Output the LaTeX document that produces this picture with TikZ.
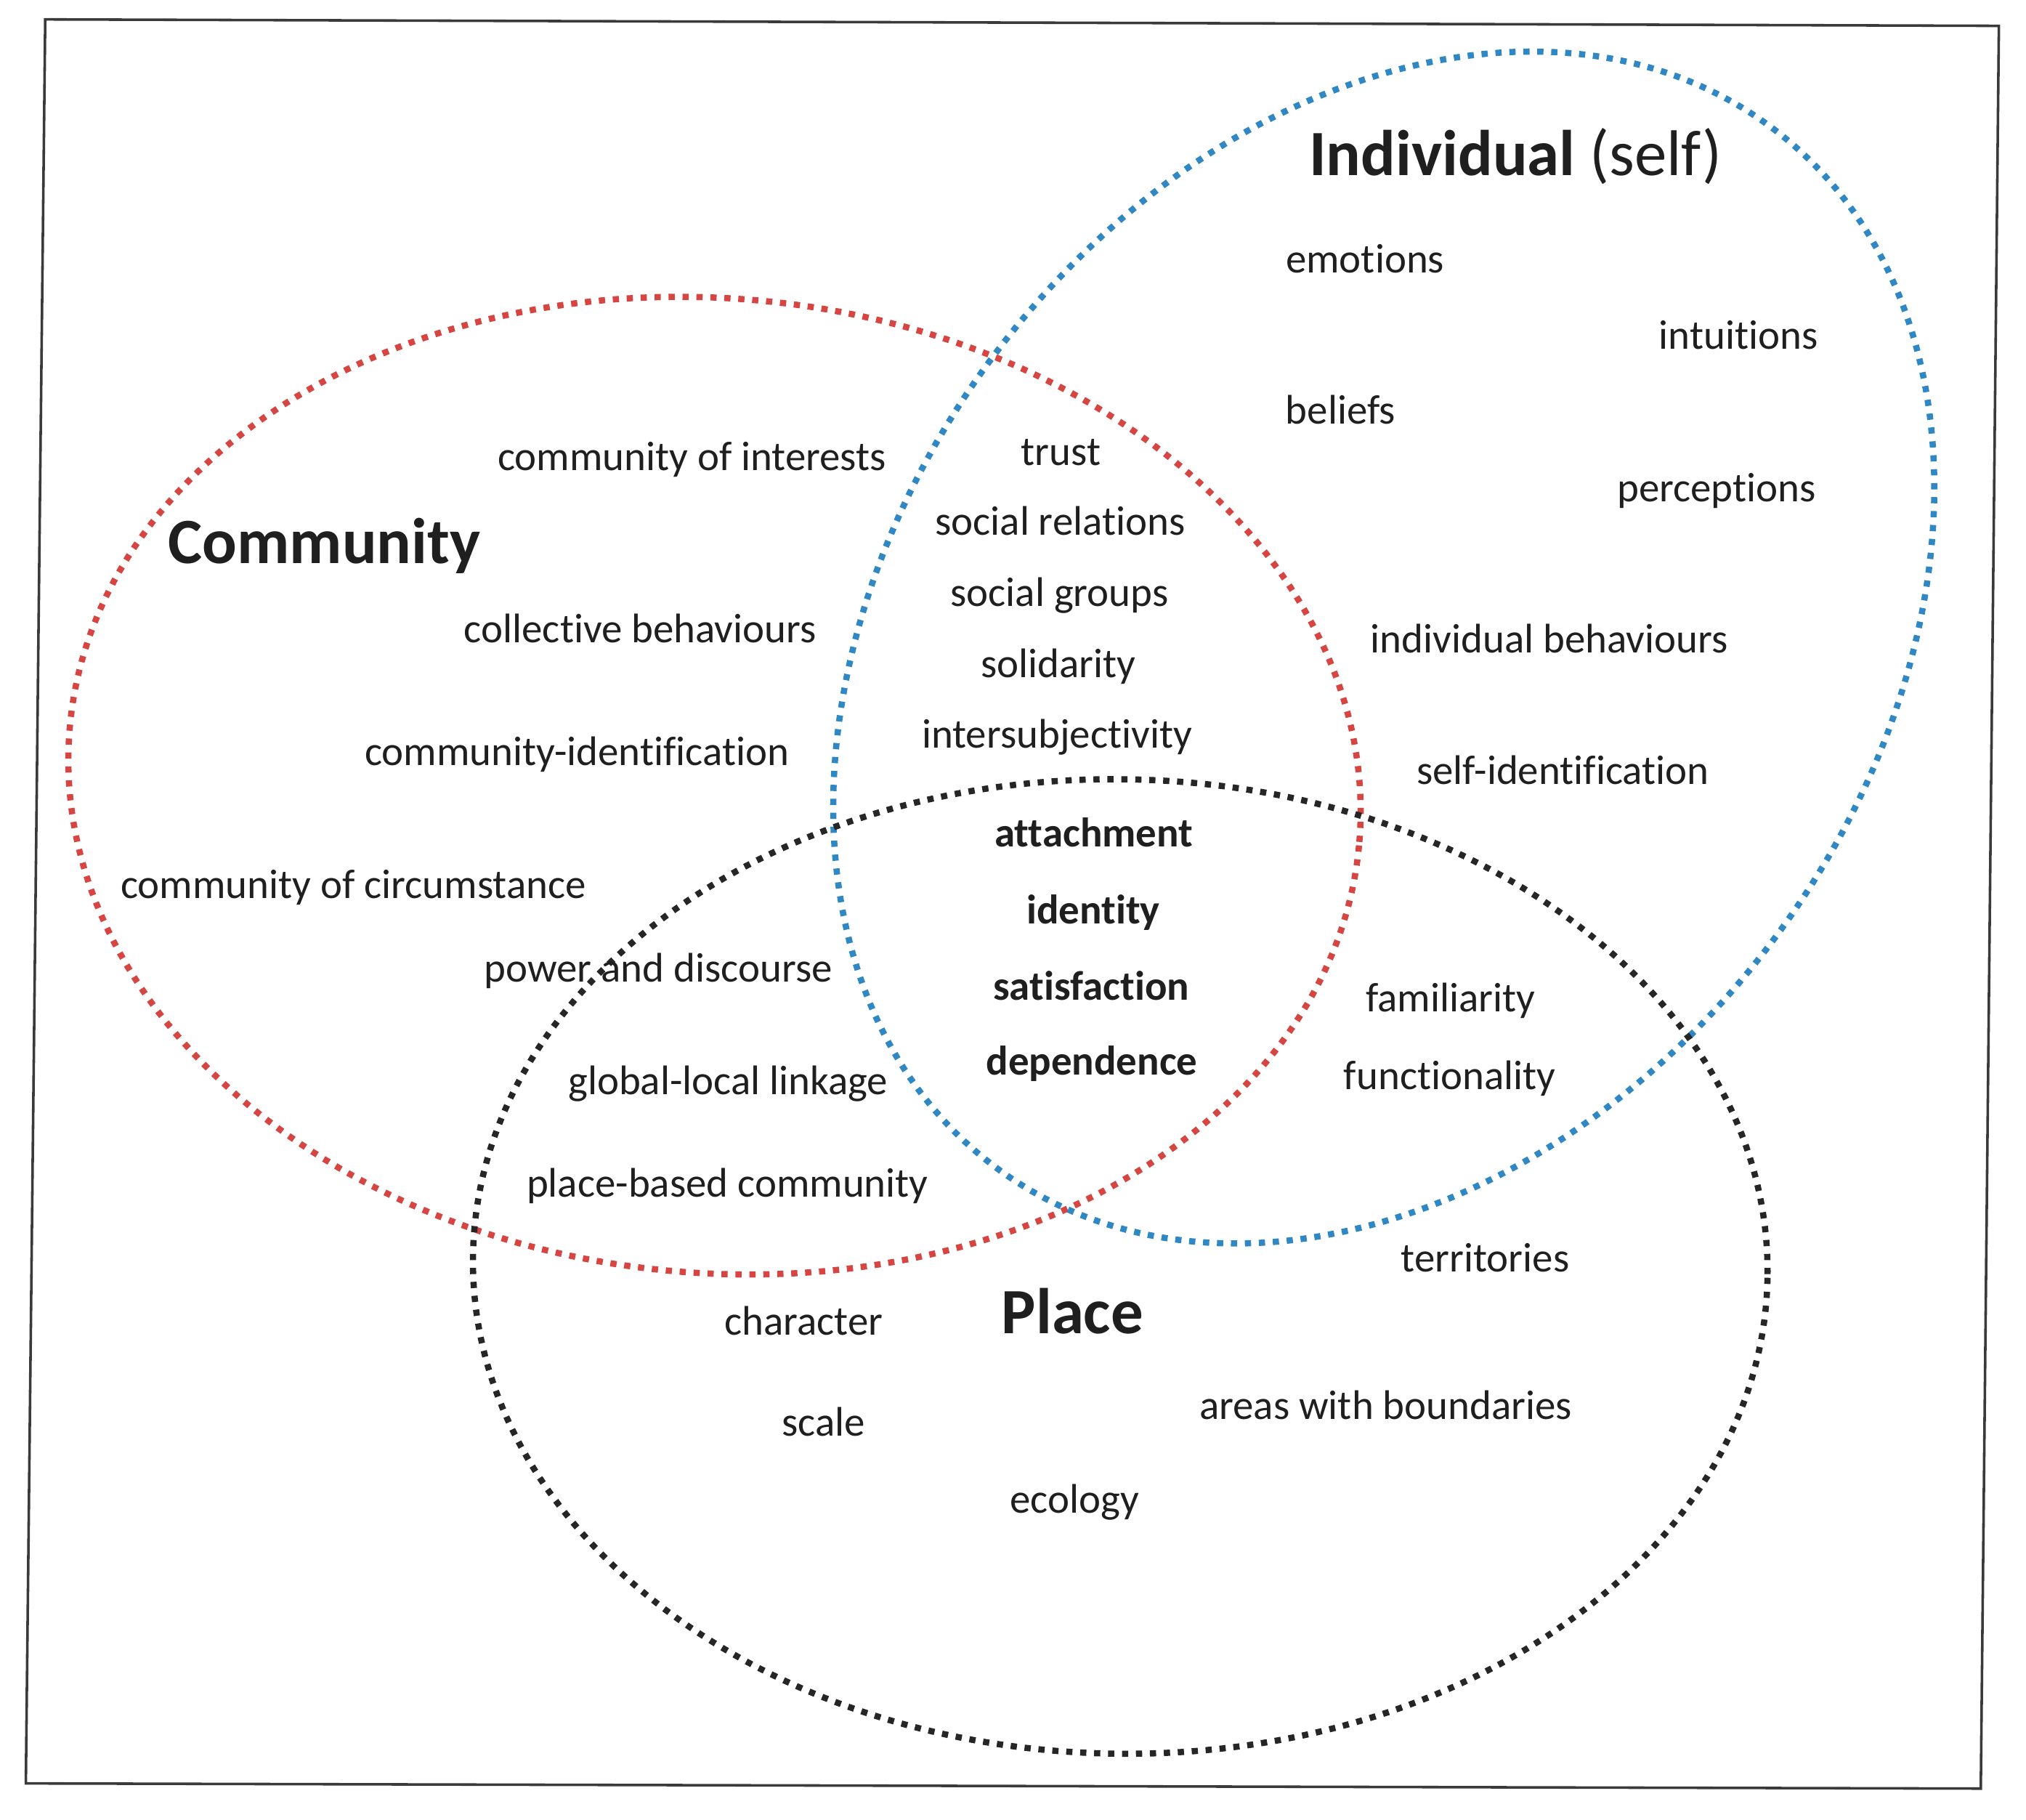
\documentclass[tikz,border=0pt]{standalone}
\usepackage{fontspec}
\setmainfont{Carlito}[RawFeature={-liga;-clig;-dlig}]
\definecolor{cred}{HTML}{D64541}
\definecolor{cblue}{HTML}{2F87C4}
\definecolor{cblack}{HTML}{262626}
\definecolor{ctext}{HTML}{1F1F1F}
\definecolor{cframe}{HTML}{3A3A3A}
\tikzset{
  lbl/.style={anchor=base, font=\fontsize{32}{38}\selectfont, text=ctext, inner sep=0pt, yshift=-3pt},
  blbl/.style={anchor=base, font=\fontsize{32}{38}\selectfont\bfseries, text=ctext, inner sep=0pt, yshift=-3pt},
  ttl/.style={anchor=base west, font=\fontsize{50}{60}\selectfont\bfseries, text=ctext, inner sep=0pt},
  dotline/.style={line width=4.8pt, dash pattern=on 4.8pt off 6pt},
  framebox/.style={line width=2pt, draw=cframe}
}
\begin{document}
\begin{tikzpicture}[x=1pt,y=-1pt]
\useasboundingbox (0,0) rectangle (1568,1408);
% frame
\draw[framebox] (35,15) -- (1547,20) -- (1533,1384) -- (20,1380) -- cycle;
% ellipses
\coordinate (cc) at (553,608);
\coordinate (ci) at (1071,501);
\coordinate (cp) at (867,980);
\draw[dotline, draw=cred, rotate around={-5.3:(cc)}] (cc) ellipse [x radius=501, y radius=377];
\draw[dotline, draw=cblue, rotate around={53.2:(ci)}] (ci) ellipse [x radius=502, y radius=377];
\draw[dotline, draw=cblack, rotate around={-1:(cp)}] (cp) ellipse [x radius=501, y radius=377];
% titles
\node[ttl] (tind) at (1013,136) {Individual\mdseries\ (self)};
\node[ttl] (tcom) at (130,436) {Community};
\node[ttl] (tpla) at (775,1032) {Place};
% individual
\node[lbl] (emo) at (1056.5,208) {emotions};
\node[lbl] (int) at (1345.5,267) {intuitions};
\node[lbl] (bel) at (1037.5,325) {beliefs};
\node[lbl] (per) at (1328.5,385) {perceptions};
\node[lbl] (ibe) at (1199,502) {individual behaviours};
\node[lbl] (sid) at (1209.5,604) {self-identification};
% community-individual
\node[lbl] (tru) at (821,357) {trust};
\node[lbl] (sre) at (820.5,411) {social relations};
\node[lbl] (sgr) at (820,466) {social groups};
\node[lbl] (sol) at (819,521) {solidarity};
\node[lbl] (isu) at (818,576) {intersubjectivity};
% community
\node[lbl] (coi) at (535.5,361) {community of interests};
\node[lbl] (cbe) at (495.5,494) {collective behaviours};
\node[lbl] (cid) at (446.5,589) {community-identification};
\node[lbl] (coc) at (273.5,692) {community of circumstance};
% community-place
\node[lbl] (pad) at (509.5,757) {power and discourse};
\node[lbl] (gll) at (563.5,844) {global-local linkage};
\node[lbl] (pbc) at (563,923) {place-based community};
% centre
\node[blbl] (att) at (846.5,652) {attachment};
\node[blbl] (ide) at (846,712) {identity};
\node[blbl] (sat) at (844.5,771) {satisfaction};
\node[blbl] (dep) at (845,829) {dependence};
% individual-place
\node[lbl] (fam) at (1122.5,780) {familiarity};
\node[lbl] (fun) at (1122,840) {functionality};
% place
\node[lbl] (ter) at (1149.5,981) {territories};
\node[lbl] (cha) at (622,1030) {character};
\node[lbl] (sca) at (637.5,1108) {scale};
\node[lbl] (awb) at (1072.5,1095) {areas with boundaries};
\node[lbl] (eco) at (831.5,1168) {ecology};
\end{tikzpicture}
\end{document}
